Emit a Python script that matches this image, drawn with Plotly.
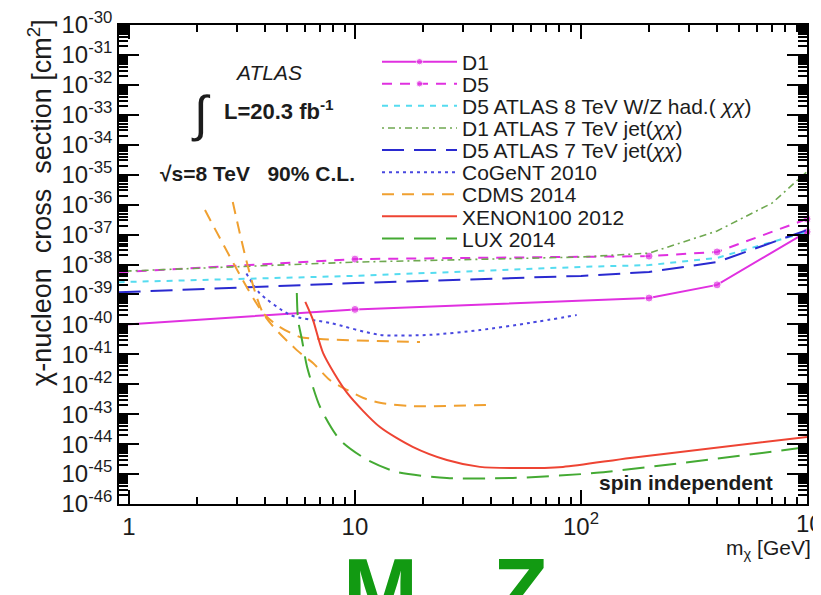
import plotly.graph_objects as go

# ---------------- data (mass in GeV, log10 of cross section in cm^2) ----------------
d1_mass = [0.9, 10, 200, 400, 1000]
d1_log_sigma = [-40.02, -39.5, -39.12, -38.68, -36.91]

d5_mass = [0.9, 10, 200, 400, 1000]
d5_log_sigma = [-38.26, -37.82, -37.72, -37.58, -36.48]

wz_mass = [0.9, 10, 100, 200, 400, 1000]
wz_log_sigma = [-38.59, -38.38, -38.08, -38.02, -37.78, -36.91]

jet7_d1_mass = [0.9, 10, 100, 200, 400, 700, 1000]
jet7_d1_log_sigma = [-38.23, -37.92, -37.75, -37.62, -36.88, -35.95, -34.9]

jet7_d5_mass = [0.9, 10, 100, 200, 400, 1000]
jet7_d5_log_sigma = [-38.93, -38.62, -38.38, -38.25, -37.92, -36.85]

cogent_mass = [3.31, 3.78, 5.19, 7.73, 12.9, 21.5, 35.7, 59.4, 95.7]
cogent_log_sigma = [-38.3, -38.95, -39.69, -39.95, -40.35, -40.35, -40.19, -39.95, -39.69]

cdms_a_mass = [2.17, 3.92, 4.66, 5.71, 7.01, 19.4]
cdms_a_log_sigma = [-36.18, -39.62, -40.09, -40.42, -40.49, -40.59]

cdms_b_mass = [2.88, 3.92, 5.53, 6.52, 7.74, 9.23, 10.9, 12.9, 18.0, 39.6]
cdms_b_log_sigma = [-35.91, -39.62, -40.86, -41.29, -41.86, -42.19, -42.46, -42.62, -42.73, -42.69]

xenon_mass = [6.03, 6.52, 7.23, 9.23, 12.9, 18.0, 25.5, 35.7, 50.0, 83.2, 165, 1000]
xenon_log_sigma = [-39.25, -39.85, -40.96, -42.29, -43.43, -44.09, -44.53, -44.76, -44.80, -44.76, -44.46, -43.76]

lux_mass = [5.53, 5.60, 5.83, 6.14, 7.01, 8.59, 11.35, 15.3, 25.5, 50.0, 117, 1000]
lux_log_sigma = [-38.95, -39.85, -40.52, -41.42, -42.76, -43.86, -44.53, -44.93, -45.13, -45.13, -44.96, -44.1]

x_tick_vals = [1, 10, 100, 1000]
x_tick_text = ["1", "10", "10<sup>2</sup>", ""]
x_edge_label = "10<sup>3</sup>"   # tick label at the right edge, partly cut by the page edge
y_tick_exps = list(range(-46, -29))
y_tick_text = ["10<sup>%d</sup>" % e for e in y_tick_exps]

legend_labels = [
    "D1",
    "D5",
    "D5 ATLAS 8 TeV W/Z had.( <i>χχ</i>)",
    "D1 ATLAS 7 TeV jet(<i>χχ</i>)",
    "D5 ATLAS 7 TeV jet(<i>χχ</i>)",
    "CoGeNT 2010",
    "CDMS 2014",
    "XENON100 2012",
    "LUX 2014",
]

# ---------------- geometry (viewport pixels; the page body adds an 8px offset) ----------------
OFF = 8
VW, VH = 821, 595
L, R, T, B = 119, 807, 25, 504          # plot frame in viewport pixels
W, H = VW - OFF, VH - OFF               # figure size


def px(x):
    return (x - L) / (R - L)


def py(y):
    return (B - y) / (B - T)


def pw(v):
    return [10 ** e for e in v]


FONT = "Liberation Sans, Arial, Helvetica, sans-serif"
TXT = "#1c1c1c"

fig = go.Figure()

styles = [
    # (mass, logsig, label index, color, dash, width, markers, shape)
    (d1_mass, d1_log_sigma, 0, "#e030e0", "solid", 2, True, "linear"),
    (d5_mass, d5_log_sigma, 1, "#e030e0", "10px,8px", 2, True, "linear"),
    (wz_mass, wz_log_sigma, 2, "#55dcf0", "6px,6px", 2, False, "linear"),
    (jet7_d1_mass, jet7_d1_log_sigma, 3, "#6fa850", "2px,4px,7px,4px", 1.6, False, "linear"),
    (jet7_d5_mass, jet7_d5_log_sigma, 4, "#2a2ad0", "22px,10px", 2, False, "linear"),
    (cogent_mass, cogent_log_sigma, 5, "#4848e0", "3px,4px", 2, False, "spline"),
    (cdms_a_mass, cdms_a_log_sigma, 6, "#f0a030", "12px,8px", 2, False, "spline"),
    (xenon_mass, xenon_log_sigma, 7, "#ee4433", "solid", 2, False, "spline"),
    (lux_mass, lux_log_sigma, 8, "#44aa33", "22px,10px", 2, False, "spline"),
]

for mass, ls, idx, color, dash, width, markers, shape in styles:
    lg = "legend" if idx == 0 else "legend%d" % (idx + 1)
    tr = dict(
        x=mass,
        y=pw(ls),
        name=legend_labels[idx],
        line=dict(color=color, dash=dash, width=width, shape=shape, smoothing=0.7),
        legend=lg,
        legendgroup="g%d" % idx,
        showlegend=True,
        cliponaxis=not markers,
    )
    if markers:
        tr["mode"] = "lines+markers"
        tr["marker"] = dict(size=[0] + [8] * (len(mass) - 1), color=color)
    else:
        tr["mode"] = "lines"
    fig.add_trace(go.Scatter(**tr))
    if idx == 6:
        fig.add_trace(go.Scatter(
            x=cdms_b_mass, y=pw(cdms_b_log_sigma), mode="lines",
            line=dict(color=color, dash=dash, width=width, shape="spline", smoothing=0.7),
            legend=lg, legendgroup="g6", showlegend=False,
        ))

row0, rowstep = 62, 22.1
legends = {}
for i in range(9):
    key = "legend" if i == 0 else "legend%d" % (i + 1)
    legends[key] = dict(
        x=px(377), y=py(row0 + rowstep * i), xanchor="left", yanchor="middle",
        bgcolor="rgba(0,0,0,0)", borderwidth=0,
        font=dict(family=FONT, size=21, color=TXT),
        itemwidth=75, tracegroupgap=0,
    )

# minor tick positions (axis decoration)
x_minor = [k * 10 ** e for e in range(0, 3) for k in range(2, 10)]
y_minor = [k * 10.0 ** e for e in range(-46, -30) for k in range(2, 10)]

fig.update_layout(
    width=W, height=H,
    margin=dict(l=L - OFF, r=W - (R - OFF), t=T - OFF, b=H - (B - OFF)),
    paper_bgcolor="white", plot_bgcolor="white",
    showlegend=True,
    xaxis=dict(
        type="log", range=[-0.044, 3], tickmode="array", tickvals=x_tick_vals,
        ticktext=x_tick_text, ticks="inside", ticklen=14, tickwidth=2, tickcolor="black",
        showline=True, linecolor="black", linewidth=1.5, mirror="allticks",
        showgrid=False, zeroline=False, automargin=False,
        tickfont=dict(family=FONT, size=24, color=TXT),
        minor=dict(ticks="inside", ticklen=7, tickwidth=1.6, tickcolor="black", tickmode="array",
                   tickvals=x_minor, showgrid=False),
    ),
    yaxis=dict(
        type="log", range=[-46, -30], tickmode="array",
        tickvals=[10 ** e for e in y_tick_exps], ticktext=y_tick_text,
        ticks="inside", ticklen=20, tickwidth=2, tickcolor="black",
        showline=True, linecolor="black", linewidth=1.5, mirror="allticks",
        showgrid=False, zeroline=False, automargin=False,
        tickfont=dict(family=FONT, size=24, color=TXT),
        minor=dict(ticks="inside", ticklen=9, tickwidth=1.6, tickcolor="black", tickmode="array",
                   tickvals=y_minor, showgrid=False),
    ),
    **legends,
)

ann = [
    dict(text="<i>ATLAS</i>", x=px(268), y=py(72), size=21),
    dict(text="∫", x=px(201), y=py(114), size=50),
    dict(text="<b>L=20.3 fb<sup>-1</sup></b>", x=px(279), y=py(110), size=22),
    dict(text="<b>√s=8 TeV   90% C.L.</b>", x=px(257), y=py(173), size=21),
    dict(text="<b>spin independent</b>", x=px(686), y=py(482), size=21),
    dict(text="m<sub>χ</sub> [GeV]", x=px(768), y=py(549), size=21),
    dict(text=x_edge_label, x=px(814), y=py(522), size=24),
]
for a in ann:
    fig.add_annotation(
        text=a["text"], x=a["x"], y=a["y"], xref="paper", yref="paper",
        showarrow=False, xanchor="center", yanchor="middle",
        font=dict(family=FONT, size=a["size"], color=TXT),
    )

fig.add_annotation(
    text="χ-nucleon  cross  section [cm<sup>2</sup>]", x=px(40), y=py(203),
    xref="paper", yref="paper", showarrow=False, textangle=-90,
    xanchor="center", yanchor="middle",
    font=dict(family=FONT, size=27, color=TXT),
)

fig.add_annotation(
    text="<b>M   Z</b>", x=px(445), y=py(539), xref="paper", yref="paper",
    showarrow=False, xanchor="center", yanchor="top",
    font=dict(family=FONT, size=90, color="#129a12"),
)

fig.write_html("out.html")
